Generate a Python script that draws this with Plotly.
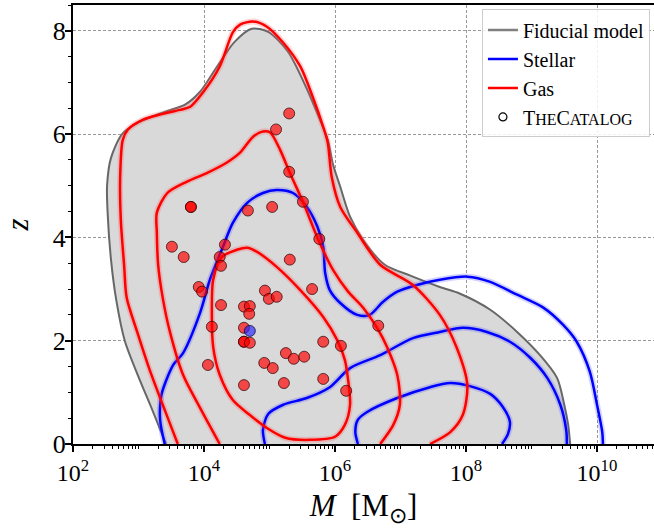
import numpy as np
import plotly.graph_objects as go

# ---------------- data (log10 M [Msun], z) ----------------
fid_logM = [3.42, 3.21, 3.00, 2.79, 2.66, 2.58, 2.53, 2.52, 2.58, 2.75, 3.02, 3.40, 3.71, 3.94,
            4.17, 4.47, 4.73, 4.98, 5.28, 5.54, 5.77, 5.89, 5.97, 6.08, 6.23, 6.43, 6.76, 7.15,
            7.60, 7.91, 8.37, 8.78, 9.13, 9.39, 9.50, 9.56, 9.59]
fid_z = [0.0, 0.66, 1.30, 2.00, 2.79, 3.57, 4.44, 5.00, 5.54, 6.00, 6.24, 6.43, 6.57, 6.82,
         7.25, 7.79, 8.04, 7.98, 7.60, 6.96, 6.28, 5.89, 5.41, 4.98, 4.40, 3.95, 3.47, 3.26,
         3.04, 2.91, 2.60, 2.17, 1.72, 1.28, 0.76, 0.37, 0.0]

# Stellar contours
st_outer_logM = [3.40, 3.33, 3.35, 3.53, 3.68, 3.94, 4.09, 4.29, 4.44, 4.66, 4.90, 5.11, 5.36,
                 5.57, 5.73, 5.82, 5.85, 5.92, 6.08, 6.34, 6.53, 6.73, 6.95, 7.25, 7.60, 8.02,
                 8.37, 8.78, 9.18, 9.48, 9.69, 9.89, 10.00, 10.08, 10.09]
st_outer_z = [0.0, 0.47, 0.95, 1.53, 1.76, 2.54, 3.18, 3.82, 4.28, 4.67, 4.86, 4.92, 4.86,
              4.59, 4.21, 3.82, 3.31, 2.98, 2.73, 2.50, 2.50, 2.75, 2.95, 3.08, 3.18, 3.24,
              3.14, 2.89, 2.64, 2.31, 1.98, 1.40, 0.76, 0.23, 0.0]
st_mid_logM = [4.93, 4.90, 4.98, 5.21, 5.57, 5.92, 6.23, 6.69, 7.19, 7.60, 7.95, 8.32, 8.67,
               8.98, 9.24, 9.44, 9.53, 9.54]
st_mid_z = [0.0, 0.27, 0.58, 0.76, 0.89, 1.10, 1.47, 1.72, 2.05, 2.17, 2.25, 2.17, 1.98,
            1.67, 1.28, 0.76, 0.27, 0.0]
st_in_logM = [6.35, 6.31, 6.35, 6.49, 6.95, 7.45, 7.76, 8.06, 8.37, 8.56, 8.67, 8.64, 8.55]
st_in_z = [0.0, 0.23, 0.47, 0.62, 0.89, 1.10, 1.18, 1.12, 0.97, 0.72, 0.43, 0.19, 0.0]

# Gas contours
gas_outer_logM = [3.60, 3.53, 3.37, 3.18, 2.98, 2.82, 2.78, 2.73, 2.72, 2.76, 2.84, 3.07, 3.33,
                  3.63, 3.79, 3.98, 4.24, 4.44, 4.55, 4.75, 4.96, 5.21, 5.47, 5.66, 5.82, 5.89,
                  5.95, 6.08, 6.34, 6.69, 7.19, 7.60, 7.86, 8.02, 7.95, 7.76, 7.45]
gas_outer_z = [0.0, 0.23, 0.76, 1.40, 2.17, 2.83, 3.47, 4.34, 5.17, 5.89, 6.09, 6.28, 6.38,
               6.47, 6.53, 6.80, 7.31, 7.97, 8.12, 8.18, 8.08, 7.77, 7.31, 6.72, 6.14, 5.83,
               5.17, 4.59, 4.09, 3.47, 3.08, 2.50, 1.86, 1.14, 0.56, 0.23, 0.0]
gas_mid_logM = [4.24, 3.94, 3.68, 3.48, 3.37, 3.30, 3.28, 3.28, 3.44, 3.74, 4.05, 4.35, 4.55,
                4.75, 4.90, 5.01, 5.16, 5.31, 5.51, 5.74, 5.97, 6.20, 6.43, 6.73, 6.95, 6.99,
                6.89, 6.69]
gas_mid_z = [0.0, 0.70, 1.34, 2.17, 2.83, 3.47, 4.09, 4.48, 4.86, 5.08, 5.25, 5.45, 5.64,
             5.95, 6.05, 6.03, 5.70, 5.25, 4.69, 3.97, 3.37, 2.95, 2.64, 2.05, 1.34, 0.76,
             0.37, 0.0]
gas_in_logM = [4.66, 4.81, 5.11, 5.47, 5.82, 6.03, 6.15, 6.20, 6.23, 6.15, 6.00, 5.62, 5.24,
               4.96, 4.70, 4.44, 4.24, 4.14, 4.12, 4.14, 4.27, 4.50, 4.66]
gas_in_z = [3.80, 3.72, 3.43, 2.98, 2.46, 2.02, 1.63, 1.24, 0.76, 0.37, 0.14, 0.08, 0.12,
            0.31, 0.56, 0.85, 1.34, 1.88, 2.54, 3.18, 3.62, 3.76, 3.80]

# Catalog points
cat_logM = [5.30, 5.10, 5.30, 5.51, 5.76, 3.80, 3.80, 4.67, 5.04, 3.51, 3.69, 4.32, 4.24, 4.26,
            5.31, 3.92, 3.97, 4.93, 4.99, 5.11, 5.65, 4.26, 4.61, 4.70, 4.69, 4.12, 4.61,
            4.61, 4.61, 4.70, 5.82, 6.09, 6.66, 5.25, 5.37, 5.53, 4.92, 5.05, 4.06, 4.61,
            5.22, 5.82, 6.17]
cat_z = [6.40, 6.09, 5.27, 4.69, 3.97, 4.59, 4.59, 4.52, 4.59, 3.82, 3.62, 3.86, 3.62, 3.45,
         3.57, 3.04, 2.95, 2.97, 2.81, 2.85, 3.00, 2.69, 2.66, 2.67, 2.52, 2.27, 2.25,
         1.98, 1.98, 1.96, 1.98, 1.90, 2.29, 1.76, 1.65, 1.69, 1.57, 1.47, 1.53, 1.14,
         1.18, 1.26, 1.03]
cat_blue_logM = [4.70]
cat_blue_z = [2.19]

major_exp = [2, 4, 6, 8, 10]


def mass(a):
    return [10 ** v for v in a]


fig = go.Figure()

# Fiducial model filled region
fig.add_trace(go.Scatter(x=mass(fid_logM), y=fid_z, mode='lines', fill='toself',
                         fillcolor='#d9d9d9',
                         line=dict(color='#676767', width=2, shape='spline', smoothing=0.8),
                         showlegend=False, hoverinfo='skip'))

contours = [
    (st_outer_logM, st_outer_z, 'rgba(80,80,255,0.25)', '#0000ff'),
    (st_mid_logM, st_mid_z, 'rgba(80,80,255,0.25)', '#0000ff'),
    (st_in_logM, st_in_z, 'rgba(80,80,255,0.25)', '#0000ff'),
    (gas_outer_logM, gas_outer_z, 'rgba(255,80,80,0.25)', '#ff0000'),
    (gas_mid_logM, gas_mid_z, 'rgba(255,80,80,0.25)', '#ff0000'),
    (gas_in_logM, gas_in_z, 'rgba(255,80,80,0.25)', '#ff0000'),
]
for lx, lz, halo, col in contours:
    fig.add_trace(go.Scatter(x=mass(lx), y=lz, mode='lines',
                             line=dict(color=halo, width=6, shape='spline', smoothing=0.8),
                             showlegend=False, hoverinfo='skip'))
    fig.add_trace(go.Scatter(x=mass(lx), y=lz, mode='lines',
                             line=dict(color=col, width=2.5, shape='spline', smoothing=0.8),
                             showlegend=False, hoverinfo='skip'))

# Catalog points
fig.add_trace(go.Scatter(x=mass(cat_logM), y=cat_z, mode='markers',
                         marker=dict(size=11, color='rgba(255,0,0,0.68)',
                                     line=dict(color='rgba(40,0,0,0.7)', width=1)),
                         showlegend=False, hoverinfo='skip'))
fig.add_trace(go.Scatter(x=mass(cat_blue_logM), y=cat_blue_z, mode='markers',
                         marker=dict(size=11, color='rgba(40,40,255,0.68)',
                                     line=dict(color='rgba(0,0,40,0.7)', width=1)),
                         showlegend=False, hoverinfo='skip'))

# Legend entries
fig.add_trace(go.Scatter(x=[None], y=[None], mode='lines', name='Fiducial model',
                         line=dict(color='#808080', width=2.5)))
fig.add_trace(go.Scatter(x=[None], y=[None], mode='lines', name='Stellar',
                         line=dict(color='#0000ff', width=2.5)))
fig.add_trace(go.Scatter(x=[None], y=[None], mode='lines', name='Gas',
                         line=dict(color='#ff0000', width=2.5)))
fig.add_trace(go.Scatter(x=[None], y=[None], mode='markers',
                         name='T<span style="font-size:16px">HE</span>C<span style="font-size:16px">ATALOG</span>',
                         marker=dict(size=8, color='rgba(255,255,255,0)',
                                     line=dict(color='black', width=1.2))))

minor_vals = [k * 10 ** d for d in range(2, 11) for k in range(1, 10)
              if not (k == 1 and d in major_exp)]

font_family = 'Liberation Serif'
fig.update_layout(
    width=654, height=530,
    margin=dict(l=73, r=0, t=5, b=86),
    plot_bgcolor='white', paper_bgcolor='white',
    font=dict(family=font_family, color='black', size=24),
    showlegend=True,
    legend=dict(x=0.993, y=0.99, xanchor='right', yanchor='top',
                bgcolor='rgba(255,255,255,0.85)', bordercolor='#cccccc', borderwidth=1,
                font=dict(size=20, family=font_family, color='black'), tracegroupgap=0,
                traceorder='normal'),
    xaxis=dict(type='log', range=[2, 10.87],
               tickvals=[10 ** e for e in major_exp],
               ticktext=['10<sup>%d</sup>' % e for e in major_exp],
               ticks='outside', ticklen=6, tickwidth=1.5, tickcolor='black',
               showline=True, linecolor='black', linewidth=2, mirror=True,
               showgrid=True, gridcolor='#999999', gridwidth=1, griddash='3px,2px',
               zeroline=False,
               minor=dict(tickvals=minor_vals, ticks='outside', ticklen=3,
                          tickwidth=1, tickcolor='black', showgrid=False),
               title=dict(text='<i>M</i>\u00a0\u00a0[M<sub>⊙</sub>]',
                          font=dict(size=31, family=font_family, color='black'), standoff=10),
               tickfont=dict(size=24, family=font_family, color='black')),
    yaxis=dict(range=[0, 8.5], tickvals=[0, 2, 4, 6, 8],
               ticks='outside', ticklen=6, tickwidth=1.5, tickcolor='black',
               showline=True, linecolor='black', linewidth=2, mirror=False,
               showgrid=True, gridcolor='#999999', gridwidth=1, griddash='3px,2px',
               zeroline=False, ticklabelstandoff=-6,
               minor=dict(dtick=0.5, ticks='outside', ticklen=3, tickwidth=1,
                          tickcolor='black', showgrid=False),
               title=dict(text='<i>z</i>', font=dict(size=31, family=font_family, color='black'),
                          standoff=18),
               tickfont=dict(size=26, family=font_family, color='black')),
)

fig.write_html('out.html', config={'displayModeBar': False},
               post_script="document.body.style.margin='0px';")
